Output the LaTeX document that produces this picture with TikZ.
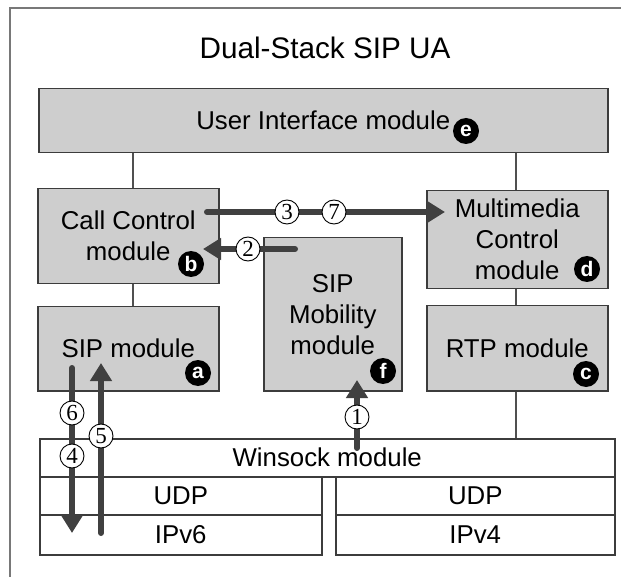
\documentclass[tikz,border=0pt]{standalone}
\usepackage{fontspec}
\setmainfont{Liberation Sans}
\newfontfamily\numfont{Liberation Serif}
\usetikzlibrary{arrows.meta}
\definecolor{boxfill}{RGB}{206,206,206}
\definecolor{boxline}{RGB}{60,60,60}
\definecolor{flowgray}{RGB}{64,64,64}
\definecolor{linkgray}{RGB}{80,80,80}
\definecolor{framegray}{RGB}{120,120,120}
\begin{document}
\begin{tikzpicture}[x=1pt,y=-1pt,
  modbox/.style={draw=boxline, fill=boxfill, line width=1.5pt, inner sep=0pt,
    align=center, anchor=north west, font=\fontsize{25.8}{31}\selectfont},
  stackbox/.style={modbox, fill=white},
  link/.style={draw=linkgray, line width=1.3pt},
  flow/.style={draw=flowgray, line width=6pt, line cap=round,
    -{Triangle[length=18pt,width=21pt]}},
  badge/.style={circle, fill=black, text=white, inner sep=0pt, minimum size=26pt,
    font=\bfseries\fontsize{21}{21}\selectfont},
  stepnum/.style={circle, draw=black, fill=white, line width=0.9pt, inner sep=0pt,
    minimum size=24pt, font=\numfont\fontsize{23}{23}\selectfont}]
\useasboundingbox (0,0) rectangle (621,577);

% outer frame (left and top edges only)
\draw[framegray, line width=1.5pt] (10,577) -- (10,8) -- (621,8);

\node[font=\fontsize{29.7}{34}\selectfont] (title) at (325,48) {Dual-Stack SIP UA};

% modules
\node[modbox, minimum width=569pt, minimum height=64pt] (ui) at (38,88) {User Interface module};
\node[modbox, minimum width=181pt, minimum height=95pt] (cc) at (37,188) {Call Control\\module};
\node[modbox, minimum width=181pt, minimum height=84pt] (sip) at (37,306) {SIP module};
\node[modbox, minimum width=138pt, minimum height=153pt] (mob) at (263,237) {SIP\\Mobility\\module};
\node[modbox, minimum width=181pt, minimum height=98pt] (mc) at (426,190) {Multimedia\\Control\\module};
\node[modbox, minimum width=181pt, minimum height=85pt] (rtp) at (426,305) {RTP module};

% transport stack
\node[stackbox, minimum width=575pt, minimum height=38pt] (ws) at (39,438) {Winsock module};
\node[stackbox, minimum width=282pt, minimum height=38pt] (udpl) at (39,476) {UDP};
\node[stackbox, minimum width=282pt, minimum height=40pt] (ipl) at (39,514) {IPv6};
\node[stackbox, minimum width=279pt, minimum height=38pt] (udpr) at (335,476) {UDP};
\node[stackbox, minimum width=279pt, minimum height=40pt] (ipr) at (335,514) {IPv4};

% plain connectors
\coordinate (xl) at (133,0);
\coordinate (xr) at (516,0);
\draw[link] (ui.south -| xl) -- (cc.north -| xl);
\draw[link] (cc.south -| xl) -- (sip.north -| xl);
\draw[link] (ui.south -| xr) -- (mc.north -| xr);
\draw[link] (mc.south -| xr) -- (rtp.north -| xr);
\draw[link] (rtp.south -| xr) -- (ws.north -| xr);

% module badges
\node[badge] (be) at (466,131) {e};
\node[badge] (bb) at (191,264) {b};
\node[badge] (ba) at (198,373) {a};
\node[badge] (bf) at (383,371) {f};
\node[badge] (bd) at (587,269) {d};
\node[badge] (bc) at (586,374) {c};

% message flows
\coordinate (f37s) at (207,212); \coordinate (f37e) at (445,212);
\coordinate (f2s) at (295,249);  \coordinate (f2e) at (203,249);
\coordinate (f64s) at (72,368);  \coordinate (f64e) at (72,533);
\coordinate (f5s) at (101,533);  \coordinate (f5e) at (101,363);
\coordinate (f1s) at (357,448);  \coordinate (f1e) at (357,380);
\draw[flow] (f37s) -- (f37e);
\draw[flow] (f2s) -- (f2e);
\draw[flow] (f64s) -- (f64e);
\draw[flow] (f5s) -- (f5e);
\draw[flow] (f1s) -- (f1e);

% step numbers
\node[stepnum] (n3) at (287,212) {3};
\node[stepnum] (n7) at (334,212) {7};
\node[stepnum] (n2) at (248,249) {2};
\node[stepnum] (n6) at (72,413) {6};
\node[stepnum] (n4) at (72,456) {4};
\node[stepnum] (n5) at (101,436) {5};
\node[stepnum] (n1) at (357,417) {1};
\end{tikzpicture}
\end{document}
